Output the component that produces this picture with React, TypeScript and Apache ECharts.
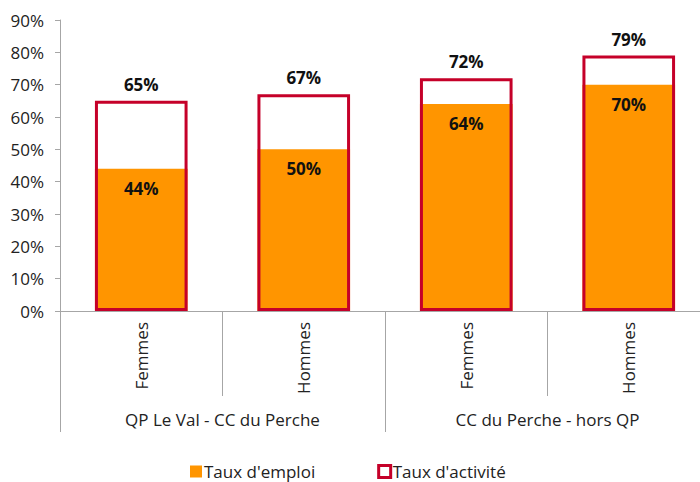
import React, { useEffect, useRef } from "react";
import * as echarts from "echarts";

const categories = ["Femmes", "Hommes", "Femmes", "Hommes"];
const groups = ["QP Le Val - CC du Perche", "CC du Perche - hors QP"];
const tauxEmploi = [44, 50, 64, 70];
const tauxActivite = [65, 67, 72, 79];
const yTicks = [0, 10, 20, 30, 40, 50, 60, 70, 80, 90];

const ORANGE = "#FF9500";
const RED = "#C50029";
const FONT = "Open Sans";
const FS = 17;

export default function App() {
  const ref = useRef<HTMLDivElement>(null);
  useEffect(() => {
    if (!ref.current) return;
    const chart = echarts.init(ref.current, undefined, { renderer: "svg" });
    chart.setOption({
      animation: false,
      textStyle: { fontFamily: FONT },
      grid: { left: 60, top: 20, right: 2, bottom: 171, containLabel: false },
      legend: {
        top: 458,
        left: 185,
        itemWidth: 12,
        itemHeight: 12,
        itemGap: 62,
        icon: "rect",
        textStyle: { fontSize: FS, color: "#222", fontFamily: FONT, padding: [0, 0, 0, -3] },
        data: [
          { name: "Taux d'emploi", itemStyle: { color: ORANGE } },
          { name: "Taux d'activité", itemStyle: { color: "#fff", borderColor: RED, borderWidth: 3 } },
        ],
      },
      xAxis: [
        {
          type: "category",
          data: categories,
          position: "bottom",
          axisLine: { show: true, lineStyle: { color: "#A6A6A6", width: 1 } },
          axisTick: { show: true, interval: 0, length: 85, lineStyle: { color: "#A6A6A6" } },
          axisLabel: { rotate: 90, margin: 11, fontSize: FS, color: "#222", fontFamily: FONT, interval: 0 },
        },
        {
          type: "category",
          data: groups,
          position: "bottom",
          axisLine: { show: false },
          axisTick: { show: true, interval: 0, length: 121, lineStyle: { color: "#A6A6A6" } },
          axisLabel: { margin: 100, fontSize: FS, color: "#222", fontFamily: FONT, interval: 0 },
        },
      ],
      yAxis: {
        type: "value",
        min: yTicks[0],
        max: yTicks[yTicks.length - 1],
        interval: 10,
        splitLine: { show: false },
        axisLine: { show: true, lineStyle: { color: "#A6A6A6" } },
        axisTick: { show: true, length: 5, lineStyle: { color: "#A6A6A6" } },
        axisLabel: { formatter: "{value}%", fontSize: FS, color: "#222", margin: 16, fontFamily: FONT },
      },
      series: [
        {
          name: "Taux d'emploi",
          type: "bar",
          xAxisIndex: 0,
          data: tauxEmploi,
          barWidth: "57%",
          barGap: "-100%",
          itemStyle: { color: ORANGE },
          label: {
            show: true,
            position: "insideTop",
            distance: 11,
            formatter: "{c}%",
            fontSize: FS,
            fontWeight: "bold",
            color: "#111",
            fontFamily: FONT,
          },
          z: 2,
        },
        {
          name: "Taux d'activité",
          type: "bar",
          xAxisIndex: 0,
          data: tauxActivite,
          barWidth: "57%",
          barGap: "-100%",
          itemStyle: { color: "rgba(255,255,255,0)", borderColor: RED, borderWidth: 3 },
          label: {
            show: true,
            position: "top",
            distance: 8,
            formatter: "{c}%",
            fontSize: FS,
            fontWeight: "bold",
            color: "#111",
            fontFamily: FONT,
          },
          z: 3,
        },
      ],
    });
    return () => chart.dispose();
  }, []);
  return (
    <div style={{ position: "fixed", left: 0, top: 0, width: 700, height: 482, overflow: "hidden", background: "#fff" }}>
      <div ref={ref} style={{ width: 712, height: 482 }} />
    </div>
  );
}
